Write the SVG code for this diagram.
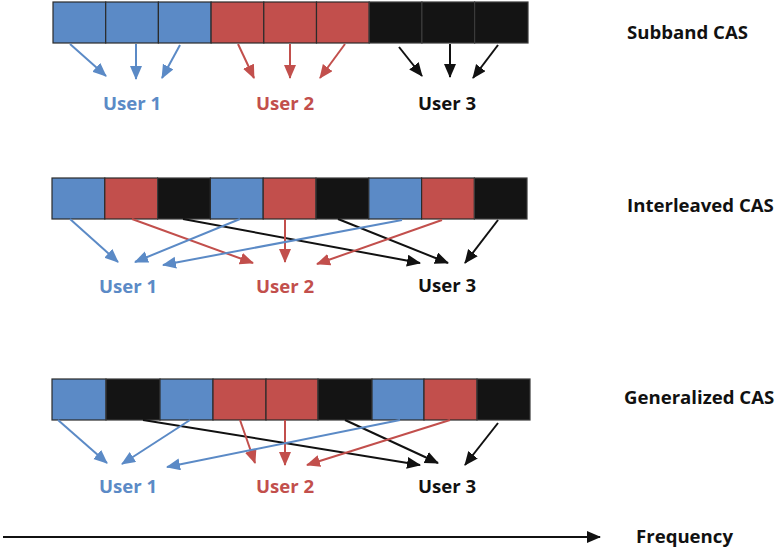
<svg xmlns="http://www.w3.org/2000/svg" width="778" height="552" viewBox="0 0 778 552">
<defs>
<style>
.cb{fill:#5B8AC6;stroke:#2b2b2b;stroke-width:1.2}
.cr{fill:#C24F4C;stroke:#2b2b2b;stroke-width:1.2}
.ck{fill:#141414;stroke:#3a3a3a;stroke-width:1.2}
.t{font-family:"Open Sans","Liberation Sans",sans-serif;font-weight:bold;font-size:18.6px}
.tb{fill:#5B8AC6}.tr{fill:#C24F4C}.tk{fill:#111}
.ab{stroke:#5B8AC6;stroke-width:2;fill:none;marker-end:url(#mb)}
.ar{stroke:#C24F4C;stroke-width:2;fill:none;marker-end:url(#mr)}
.ak{stroke:#111;stroke-width:2;fill:none;marker-end:url(#mk)}
</style>
<marker id="mb" markerUnits="userSpaceOnUse" markerWidth="15" markerHeight="13" refX="13" refY="6" orient="auto"><path d="M0,0 L14,6 L0,12 z" fill="#5B8AC6"/></marker>
<marker id="mr" markerUnits="userSpaceOnUse" markerWidth="15" markerHeight="13" refX="13" refY="6" orient="auto"><path d="M0,0 L14,6 L0,12 z" fill="#C24F4C"/></marker>
<marker id="mk" markerUnits="userSpaceOnUse" markerWidth="15" markerHeight="13" refX="13" refY="6" orient="auto"><path d="M0,0 L14,6 L0,12 z" fill="#111"/></marker>
</defs>
<rect width="778" height="552" fill="#fff"/>

<g id="bar-subband">
<rect class="cb" x="53" y="2" width="52.7" height="41"/>
<rect class="cb" x="105.7" y="2" width="52.7" height="41"/>
<rect class="cb" x="158.4" y="2" width="52.7" height="41"/>
<rect class="cr" x="211.1" y="2" width="52.7" height="41"/>
<rect class="cr" x="263.8" y="2" width="52.7" height="41"/>
<rect class="cr" x="316.5" y="2" width="52.7" height="41"/>
<rect class="ck" x="369.2" y="2" width="52.7" height="41"/>
<rect class="ck" x="421.9" y="2" width="52.7" height="41"/>
<rect class="ck" x="474.6" y="2" width="53.4" height="41"/>
</g>
<g id="bar-interleaved">
<rect class="cb" x="52" y="178" width="52.8" height="41"/>
<rect class="cr" x="104.8" y="178" width="52.8" height="41"/>
<rect class="ck" x="157.6" y="178" width="52.8" height="41"/>
<rect class="cb" x="210.4" y="178" width="52.8" height="41"/>
<rect class="cr" x="263.2" y="178" width="52.8" height="41"/>
<rect class="ck" x="316" y="178" width="52.8" height="41"/>
<rect class="cb" x="368.8" y="178" width="52.8" height="41"/>
<rect class="cr" x="421.6" y="178" width="52.8" height="41"/>
<rect class="ck" x="474.4" y="178" width="52.6" height="41"/>
</g>
<g id="bar-generalized">
<rect class="cb" x="52" y="379" width="54" height="41"/>
<rect class="ck" x="106" y="379" width="54" height="41"/>
<rect class="cb" x="160" y="379" width="53" height="41"/>
<rect class="cr" x="213" y="379" width="53" height="41"/>
<rect class="cr" x="266" y="379" width="52" height="41"/>
<rect class="ck" x="318" y="379" width="54" height="41"/>
<rect class="cb" x="372" y="379" width="52" height="41"/>
<rect class="cr" x="424" y="379" width="53" height="41"/>
<rect class="ck" x="477" y="379" width="53" height="41"/>
</g>

<g id="connectors">
<line class="ab" x1="70" y1="44" x2="106" y2="76"/>
<line class="ab" x1="136" y1="44" x2="136" y2="79"/>
<line class="ab" x1="180" y1="45" x2="162" y2="78"/>
<line class="ar" x1="238" y1="44" x2="254" y2="78"/>
<line class="ar" x1="290" y1="44" x2="290" y2="78"/>
<line class="ar" x1="345" y1="44" x2="320" y2="78"/>
<line class="ak" x1="399" y1="47" x2="422" y2="76"/>
<line class="ak" x1="450" y1="44" x2="450" y2="77"/>
<line class="ak" x1="498" y1="45" x2="473" y2="78"/>

<line class="ab" x1="70" y1="219" x2="118" y2="262"/>
<line class="ar" x1="132" y1="219" x2="253" y2="263"/>
<line class="ak" x1="183" y1="219" x2="420" y2="263"/>
<line class="ab" x1="240" y1="219" x2="135" y2="262"/>
<line class="ar" x1="285" y1="219" x2="285" y2="262"/>
<line class="ak" x1="338" y1="219" x2="448" y2="263"/>
<line class="ab" x1="402" y1="220" x2="163" y2="265"/>
<line class="ar" x1="442" y1="220" x2="317" y2="264"/>
<line class="ak" x1="498" y1="220" x2="465" y2="263"/>

<line class="ab" x1="58" y1="420" x2="107" y2="463"/>
<line class="ak" x1="143" y1="420" x2="420" y2="465"/>
<line class="ab" x1="190" y1="420" x2="122" y2="464"/>
<line class="ar" x1="240" y1="420" x2="255" y2="463"/>
<line class="ar" x1="285" y1="420" x2="285" y2="465"/>
<line class="ak" x1="345" y1="420" x2="438" y2="463"/>
<line class="ab" x1="400" y1="420" x2="167" y2="467"/>
<line class="ar" x1="450" y1="420" x2="307" y2="465"/>
<line class="ak" x1="498" y1="423" x2="465" y2="465"/>

<line class="ak" x1="3" y1="537" x2="600" y2="537"/>
</g>

<g id="label-u1-r1"><text class="t tb" x="132" y="110" text-anchor="middle">User 1</text></g>
<g id="label-u2-r1"><text class="t tr" x="285" y="110" text-anchor="middle">User 2</text></g>
<g id="label-u3-r1"><text class="t tk" x="447" y="110" text-anchor="middle">User 3</text></g>
<g id="label-u1-r2"><text class="t tb" x="128" y="293" text-anchor="middle">User 1</text></g>
<g id="label-u2-r2"><text class="t tr" x="285" y="293" text-anchor="middle">User 2</text></g>
<g id="label-u3-r2"><text class="t tk" x="447" y="292" text-anchor="middle">User 3</text></g>
<g id="label-u1-r3"><text class="t tb" x="128" y="493" text-anchor="middle">User 1</text></g>
<g id="label-u2-r3"><text class="t tr" x="285" y="493" text-anchor="middle">User 2</text></g>
<g id="label-u3-r3"><text class="t tk" x="447" y="493" text-anchor="middle">User 3</text></g>

<g id="title-subband"><text class="t tk" x="627" y="39">Subband CAS</text></g>
<g id="title-interleaved"><text class="t tk" x="627" y="212">Interleaved CAS</text></g>
<g id="title-generalized"><text class="t tk" x="624" y="404">Generalized CAS</text></g>
<g id="label-frequency"><text class="t tk" x="636" y="543">Frequency</text></g>
</svg>
